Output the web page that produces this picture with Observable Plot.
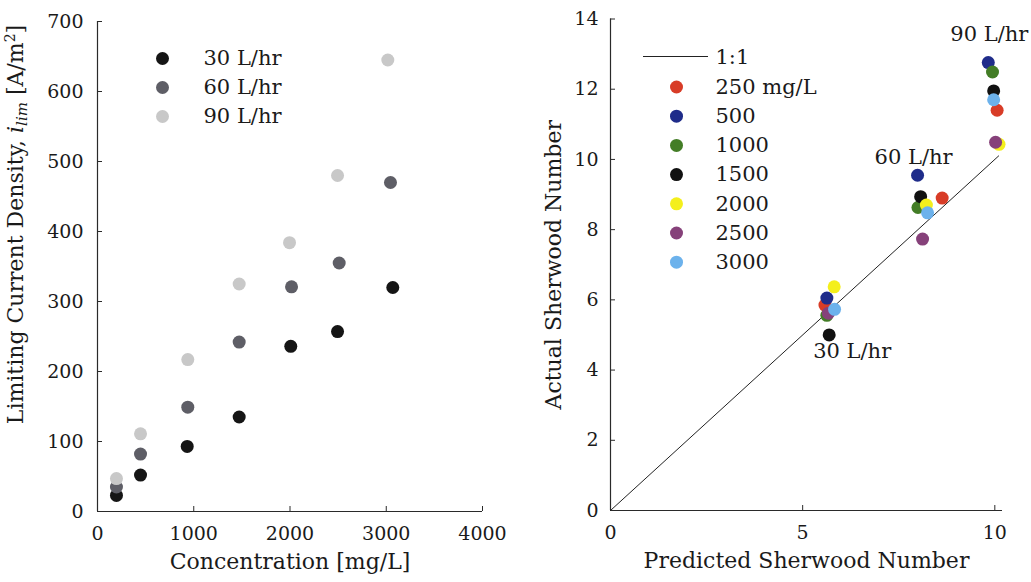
<!DOCTYPE html>
<html><head><meta charset="utf-8">
<script src="https://cdn.jsdelivr.net/npm/d3@7"></script>
<script src="https://cdn.jsdelivr.net/npm/@observablehq/plot@0.6"></script>
<style>
body{margin:0;background:#fff;}
#wrap{display:flex;width:1031px;height:582px;overflow:hidden;}
#wrap svg{font-family:"DejaVu Serif",serif;color:#1a1a1a;overflow:visible;}
</style></head><body><div id="wrap"></div>
<script>
// ---------- Left panel data ----------
const flowRates = ["30 L/hr", "60 L/hr", "90 L/hr"];
const conc30 = [197, 447, 932, 1472, 2008, 2494, 3068];
const ilim30 = [23, 52, 93, 135, 236, 257, 320];
const conc60 = [197, 447, 938, 1472, 2016, 2511, 3044];
const ilim60 = [35, 82, 149, 242, 321, 355, 470];
const conc90 = [197, 447, 938, 1472, 1995, 2494, 3016];
const ilim90 = [47, 111, 217, 325, 384, 480, 645];
const xTicksLeft = [0, 1000, 2000, 3000, 4000];
const yTicksLeft = [0, 100, 200, 300, 400, 500, 600, 700];

// ---------- Right panel data ----------
const concLabels = ["250 mg/L", "500", "1000", "1500", "2000", "2500", "3000"];
const pred30 = [5.58, 5.63, 5.63, 5.69, 5.82, 5.67, 5.83];
const act30  = [5.85, 6.05, 5.56, 5.00, 6.37, 5.62, 5.73];
const pred60 = [8.63, 7.99, 8.00, 8.07, 8.22, 8.12, 8.25];
const act60  = [8.90, 9.55, 8.63, 8.94, 8.70, 7.73, 8.48];
const pred90 = [10.06, 9.83, 9.94, 9.97, 10.11, 10.02, 9.97];
const act90  = [11.40, 12.76, 12.49, 11.95, 10.43, 10.49, 11.70];
const oneToOne = [0, 10.1];
const xTicksRight = [0, 5, 10];
const yTicksRight = [0, 2, 4, 6, 8, 10, 12, 14];

const greys = ["#151515", "#5e5e66", "#c8c8c8"];
const concColors = ["#d83c27", "#1f2c8a", "#437d26", "#111111", "#f4ef1c", "#86417a", "#6cb2ec"];
const axisColor = "#2a2a2a";
const txt = "#1a1a1a";
const leftYLabel = "Limiting Current Density, ilim [A/m2]";

const H = 582;
const wrap = document.getElementById("wrap");

// ---------- Left chart ----------
const W1 = 515;
const m1 = {top: 21, right: 33, bottom: 71, left: 97};
const pw1 = W1 - m1.left - m1.right, ph1 = H - m1.top - m1.bottom;
const leftData = [];
[[conc30, ilim30], [conc60, ilim60], [conc90, ilim90]].forEach(([cs, vs], i) =>
  cs.forEach((c, j) => leftData.push({flow: flowRates[i], conc: c, ilim: vs[j]})));

const legend1 = flowRates.flatMap((f, i) => [
  Plot.dot([f], {frameAnchor: "top-left", dx: 65, dy: 37 + 29 * i, r: 6.5, fill: greys[i]}),
  Plot.text([f], {frameAnchor: "top-left", dx: 106, dy: 37 + 29 * i, text: d => d, textAnchor: "start", lineAnchor: "middle", fontSize: 21, fill: txt})
]);

const left = Plot.plot({
  width: W1, height: H,
  marginTop: m1.top, marginRight: m1.right, marginBottom: m1.bottom, marginLeft: m1.left,
  x: {domain: [0, 4000]},
  y: {domain: [0, 700]},
  color: {domain: flowRates, range: greys},
  marks: [
    Plot.axisX(xTicksLeft, {tickSize: 0, tickPadding: 15, fontSize: 19, label: null, fill: txt, tickFormat: d => String(d)}),
    Plot.axisY(yTicksLeft, {tickSize: 0, tickPadding: 14, fontSize: 19, label: null, fill: txt, tickFormat: d => String(d)}),
    Plot.ruleX([0], {stroke: axisColor, strokeWidth: 1.2}),
    Plot.ruleY([0], {stroke: axisColor, strokeWidth: 1.2}),
    Plot.tickX(xTicksLeft, {x: d => d, insetTop: ph1 - 5, stroke: axisColor}),
    Plot.tickY(yTicksLeft, {y: d => d, insetRight: pw1 - 5, stroke: axisColor}),
    Plot.dot(leftData, {x: "conc", y: "ilim", fill: "flow", r: 6.5}),
    ...legend1,
    Plot.text(["Concentration [mg/L]"], {frameAnchor: "bottom", dy: 57, text: d => d, textAnchor: "middle", fontSize: 22, fill: txt}),
    Plot.text([leftYLabel], {frameAnchor: "left", dx: -82, dy: -42, rotate: -90, text: d => d, textAnchor: "middle", lineAnchor: "middle", fontSize: 22, fill: txt})
  ]
});
wrap.appendChild(left);

// rich y label (italic i with subscript "lim", superscript 2)
d3.select(left).selectAll("text").filter(function() { return this.textContent === leftYLabel; }).each(function() {
  const t = d3.select(this);
  t.text(null);
  t.append("tspan").text("Limiting Current Density, ");
  t.append("tspan").attr("font-style", "italic").text("i");
  t.append("tspan").attr("font-style", "italic").attr("font-size", "15").attr("dy", "4").text("lim");
  t.append("tspan").attr("dy", "-4").text(" [A/m");
  t.append("tspan").attr("font-size", "14").attr("dy", "-8").text("2");
  t.append("tspan").attr("dy", "8").text("]");
});

// ---------- Right chart ----------
const W2 = 516;
const m2 = {top: 18.5, right: 29, bottom: 72, left: 95};
const pw2 = W2 - m2.left - m2.right, ph2 = H - m2.top - m2.bottom;
const rightData = [];
[[pred30, act30, "30 L/hr"], [pred60, act60, "60 L/hr"], [pred90, act90, "90 L/hr"]].forEach(([ps, as, f]) =>
  ps.forEach((p, j) => rightData.push({flow: f, conc: concLabels[j], pred: p, act: as[j]})));
const extreme = (f, fn) => {
  const rows = rightData.filter(d => d.flow === f);
  return [rows.reduce((a, b) => (fn(b.act, a.act) ? b : a))];
};

const legend2 = concLabels.flatMap((c, i) => [
  Plot.dot([c], {frameAnchor: "top-left", dx: 66, dy: 68 + 29.2 * i, r: 6.5, fill: concColors[i]}),
  Plot.text([c], {frameAnchor: "top-left", dx: 105, dy: 68 + 29.2 * i, text: d => d, textAnchor: "start", lineAnchor: "middle", fontSize: 21, fill: txt})
]);

const right = Plot.plot({
  width: W2, height: H,
  marginTop: m2.top, marginRight: m2.right, marginBottom: m2.bottom, marginLeft: m2.left,
  x: {domain: [0, 10.2]},
  y: {domain: [0, 14]},
  color: {domain: concLabels, range: concColors},
  marks: [
    Plot.axisX(xTicksRight, {tickSize: 0, tickPadding: 15, fontSize: 19, label: null, fill: txt, tickFormat: d => String(d)}),
    Plot.axisY(yTicksRight, {tickSize: 0, tickPadding: 12, fontSize: 19, label: null, fill: txt, tickFormat: d => String(d)}),
    Plot.ruleX([0], {stroke: axisColor, strokeWidth: 1.2}),
    Plot.ruleY([0], {stroke: axisColor, strokeWidth: 1.2}),
    Plot.tickX(xTicksRight, {x: d => d, insetTop: ph2 - 5, stroke: axisColor}),
    Plot.tickY(yTicksRight, {y: d => d, insetRight: pw2 - 5, stroke: axisColor}),
    Plot.line(oneToOne.map(v => [v, v]), {stroke: "#222", strokeWidth: 1}),
    Plot.dot(rightData, {x: "pred", y: "act", fill: "conc", r: 6.5}),
    Plot.text(extreme("90 L/hr", (a, b) => a > b), {x: "pred", y: "act", text: "flow", dx: 1, dy: -28, fontSize: 21, fill: txt}),
    Plot.text(extreme("60 L/hr", (a, b) => a > b), {x: "pred", y: "act", text: "flow", dx: -4, dy: -18, fontSize: 21, fill: txt}),
    Plot.text(extreme("30 L/hr", (a, b) => a < b), {x: "pred", y: "act", text: "flow", dx: 23, dy: 16, fontSize: 21, fill: txt}),
    Plot.text(["1:1"], {frameAnchor: "top-left", dx: 105, dy: 38, text: d => d, textAnchor: "start", lineAnchor: "middle", fontSize: 21, fill: txt}),
    ...legend2,
    Plot.text(["Predicted Sherwood Number"], {frameAnchor: "bottom", dy: 57, text: d => d, textAnchor: "middle", fontSize: 22, fill: txt}),
    Plot.text(["Actual Sherwood Number"], {frameAnchor: "left", dx: -57, rotate: -90, text: d => d, textAnchor: "middle", lineAnchor: "middle", fontSize: 22, fill: txt})
  ]
});
wrap.appendChild(right);
// legend line sample for 1:1
d3.select(right).append("line")
  .attr("x1", m2.left + 33).attr("x2", m2.left + 98)
  .attr("y1", m2.top + 38).attr("y2", m2.top + 38)
  .attr("stroke", "#222").attr("stroke-width", 1);
</script></body></html>
